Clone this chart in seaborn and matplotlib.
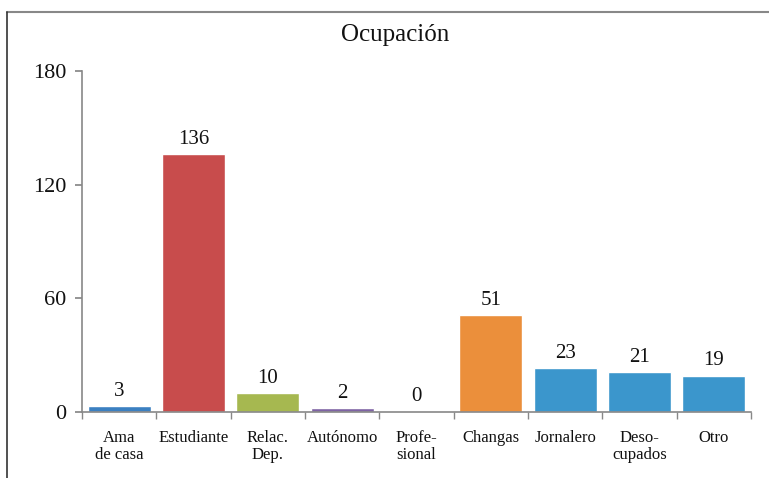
import matplotlib
matplotlib.use("Agg")
import matplotlib.pyplot as plt
from matplotlib.lines import Line2D
import numpy as np
import pandas as pd
import seaborn as sns

categorias = ["Ama\nde casa", "Estudiante", "Relac.\nDep.", "Autónomo", "Profe-\nsional",
              "Changas", "Jornalero", "Deso-\ncupados", "Otro"]
valores = [3, 136, 10, 2, 0, 51, 23, 21, 19]
colores = ["#3b80c1", "#c84c4c", "#a6b850", "#7e63a4", "#3b96cc",
           "#eb8f3b", "#3b96cc", "#3b96cc", "#3b96cc"]
y_ticks = [0, 60, 120, 180]

sns.set_theme(style="white")
plt.rcParams["font.family"] = ["Liberation Serif", "DejaVu Serif"]

df = pd.DataFrame({"ocupacion": categorias, "n": valores})

fig = plt.figure(figsize=(7.69, 4.78), dpi=100)
ax = fig.add_axes([0.1066, 0.138, 0.870, 0.7135])

sns.barplot(data=df, x="ocupacion", y="n", hue="ocupacion", palette=colores,
            legend=False, width=0.85, saturation=1, ax=ax)

for c in ax.containers:
    ax.bar_label(c, padding=4, fontsize=15, color="#111111")

ax.set_ylim(0, 180)
ax.set_yticks(y_ticks)
ax.set_xlim(-0.5, len(categorias) - 0.5)
ax.set_xlabel("")
ax.set_ylabel("")
fig.text(0.514, 0.927, "Ocupación", fontsize=18, color="#111111",
         ha="center", va="center")

for s in ["top", "right"]:
    ax.spines[s].set_visible(False)
for s in ["left", "bottom"]:
    ax.spines[s].set_color("#888888")
    ax.spines[s].set_linewidth(1.2)

ax.tick_params(axis="y", labelsize=16, length=5, color="#888888", left=True,
               direction="out", pad=6, labelcolor="#111111")
ax.tick_params(axis="x", which="major", labelsize=12, length=0, pad=13,
               labelcolor="#111111")
for lab in ax.get_xticklabels():
    lab.set_linespacing(1.1)
ax.set_xticks(np.arange(-0.5, len(categorias)), minor=True)
ax.tick_params(axis="x", which="minor", length=5, color="#888888", bottom=True,
               direction="out")

# marco exterior
fig.add_artist(Line2D([0.009, 1.0], [0.975, 0.975], transform=fig.transFigure,
                      color="#888888", lw=1.5))
fig.add_artist(Line2D([0.009, 0.009], [0.0, 0.975], transform=fig.transFigure,
                      color="#333333", lw=1.2))

fig.savefig("out.png", dpi=100)
